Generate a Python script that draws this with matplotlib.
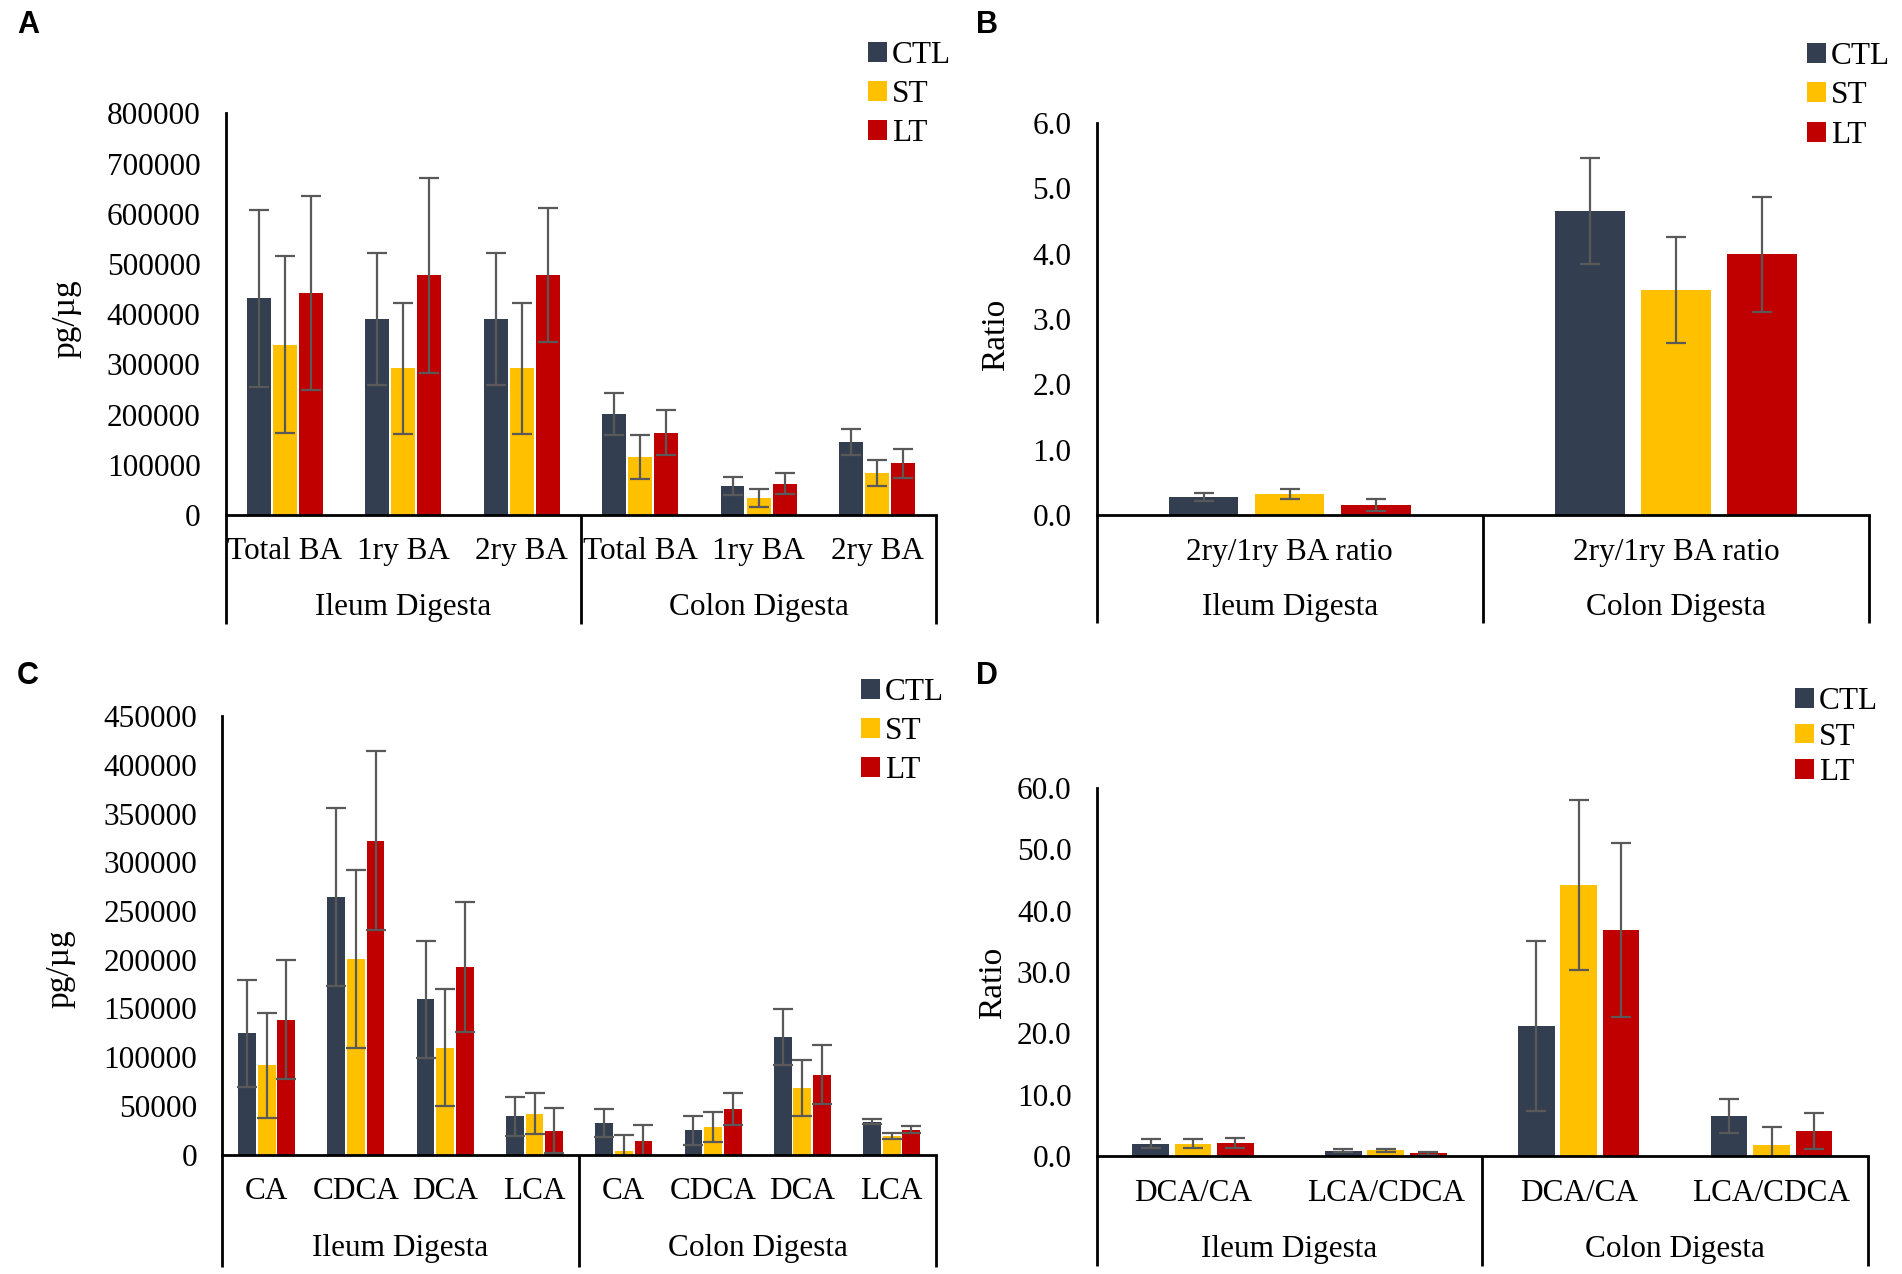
import numpy as np
import matplotlib
matplotlib.use('Agg')
import matplotlib.pyplot as plt
from matplotlib.patches import Patch

plt.rcParams['font.family'] = ['Liberation Serif', 'DejaVu Serif']

# ---- data ----
groups = ['Ileum Digesta', 'Colon Digesta']
series = ['CTL', 'ST', 'LT']
colors = ['#333F50', '#FFC000', '#C00000']

A_cats = ['Total BA', '1ry BA', '2ry BA', 'Total BA', '1ry BA', '2ry BA']
A_ctl = [432000, 390000, 390000, 202000, 59000, 146000]
A_ctl_err = [176000, 131000, 131000, 42000, 18000, 26000]
A_st = [339000, 292000, 292000, 116000, 34000, 84000]
A_st_err = [176000, 131000, 131000, 43000, 18000, 26000]
A_lt = [443000, 478000, 478000, 164000, 63000, 103000]
A_lt_err = [193000, 194000, 133000, 45000, 21000, 29000]

B_cats = ['2ry/1ry BA ratio', '2ry/1ry BA ratio']
B_ctl = [0.28, 4.65]
B_ctl_err = [0.065, 0.81]
B_st = [0.32, 3.45]
B_st_err = [0.075, 0.81]
B_lt = [0.16, 3.99]
B_lt_err = [0.09, 0.88]

C_cats = ['CA', 'CDCA', 'DCA', 'LCA', 'CA', 'CDCA', 'DCA', 'LCA']
C_ctl = [124500, 264500, 159300, 39500, 32300, 25100, 120900, 33700]
C_ctl_err = [55000, 91000, 60000, 20000, 14500, 15000, 28500, 2500]
C_st = [91500, 200700, 109700, 42200, 4100, 28500, 68000, 19200]
C_st_err = [54000, 91000, 60000, 21000, 15800, 15500, 28800, 3000]
C_lt = [138300, 322100, 192400, 24400, 14100, 46700, 82100, 25400]
C_lt_err = [61000, 91700, 67000, 23000, 16000, 16500, 30500, 3500]

D_cats = ['DCA/CA', 'LCA/CDCA', 'DCA/CA', 'LCA/CDCA']
D_ctl = [2.0, 0.85, 21.2, 6.5]
D_ctl_err = [0.7, 0.2, 13.8, 2.8]
D_st = [2.0, 0.9, 44.2, 1.7]
D_st_err = [0.7, 0.3, 13.8, 3.0]
D_lt = [2.1, 0.4, 36.9, 4.07]
D_lt_err = [0.8, 0.25, 14.2, 3.0]

FS = 22.5


def panel(ax, cats, vals, errs, ymax, ystep, fmt, ylabel, width, offset,
          cat_y, grp_y, line_y, ylab_pos):
    n = len(cats)
    x = np.arange(n) + 0.5
    for k, (v, e) in enumerate(zip(vals, errs)):
        ax.bar(x + (k - 1) * offset, v, width, color=colors[k], yerr=e,
               error_kw=dict(ecolor='#595959', elinewidth=1.6, capsize=7,
                             capthick=1.6), zorder=2)
    ax.set_xlim(0, n)
    ax.set_ylim(0, ymax)
    ticks = np.arange(0, ymax + ystep / 2, ystep)
    ax.set_yticks(ticks)
    ax.set_yticklabels([fmt % t for t in ticks], fontsize=FS)
    ax.tick_params(axis='y', length=0, pad=18)
    ax.set_xticks([])
    for s in ['top', 'right']:
        ax.spines[s].set_visible(False)
    ax.spines['left'].set_linewidth(2)
    ax.spines['bottom'].set_linewidth(2)
    tr = ax.get_xaxis_transform()
    for xv in [0, n / 2, n]:
        ax.plot([xv, xv], [0, line_y], transform=tr, color='black', lw=2,
                clip_on=False, solid_capstyle='butt')
    for xi, c in zip(x, cats):
        ax.text(xi, cat_y, c, transform=tr, ha='center', va='center', fontsize=FS)
    for gi, g in enumerate(groups):
        ax.text(n / 4 + gi * n / 2, grp_y, g, transform=tr, ha='center',
                va='center', fontsize=FS)
    ax.set_ylabel(ylabel, fontsize=24)
    ax.yaxis.set_label_coords(*ylab_pos)


fig = plt.figure(figsize=(19.02, 12.74), dpi=100)

axA = fig.add_axes([0.1186, 0.5956, 0.3737, 0.3155])
panel(axA, A_cats, [A_ctl, A_st, A_lt], [A_ctl_err, A_st_err, A_lt_err],
      800000, 100000, '%d', 'pg/µg', 0.2, 0.22, -0.091, -0.23, -0.27, (-0.203, 0.49))

axB = fig.add_axes([0.5765, 0.5956, 0.4062, 0.3078])
panel(axB, B_cats, [B_ctl, B_st, B_lt], [B_ctl_err, B_st_err, B_lt_err],
      6.0, 1.0, '%.1f', 'Ratio', 0.18, 0.223, -0.096, -0.236, -0.276, (-0.11, 0.46))

axC = fig.add_axes([0.1167, 0.0937, 0.3756, 0.3442])
panel(axC, C_cats, [C_ctl, C_st, C_lt], [C_ctl_err, C_st_err, C_lt_err],
      450000, 50000, '%d', 'pg/µg', 0.2, 0.22, -0.083, -0.214, -0.256, (-0.205, 0.425))

axD = fig.add_axes([0.5765, 0.0927, 0.4056, 0.2887])
panel(axD, D_cats, [D_ctl, D_st, D_lt], [D_ctl_err, D_st_err, D_lt_err],
      60.0, 10.0, '%.1f', 'Ratio', 0.19, 0.22, -0.103, -0.255, -0.30, (-0.115, 0.47))

handles = [Patch(facecolor=c) for c in colors]
legend_spots = [((0.4566, 0.968), 0.33), ((0.9503, 0.967), 0.33),
                ((0.4528, 0.468), 0.33), ((0.9439, 0.461), 0.22)]
for anchor, sp in legend_spots:
    fig.legend(handles, series, loc='upper left', bbox_to_anchor=anchor,
               frameon=False, fontsize=FS, handlelength=0.6, handleheight=0.6,
               handletextpad=0.15, labelspacing=sp, borderpad=0,
               borderaxespad=0)

for lab, pos in zip('ABCD', [(0.009, 0.980), (0.513, 0.980), (0.009, 0.4694), (0.513, 0.4694)]):
    fig.text(pos[0], pos[1], lab, fontsize=22, fontweight='bold',
             family=['Liberation Sans Narrow', 'Liberation Sans', 'DejaVu Sans'],
             ha='left', va='center')

fig.savefig('out.png', dpi=100)
